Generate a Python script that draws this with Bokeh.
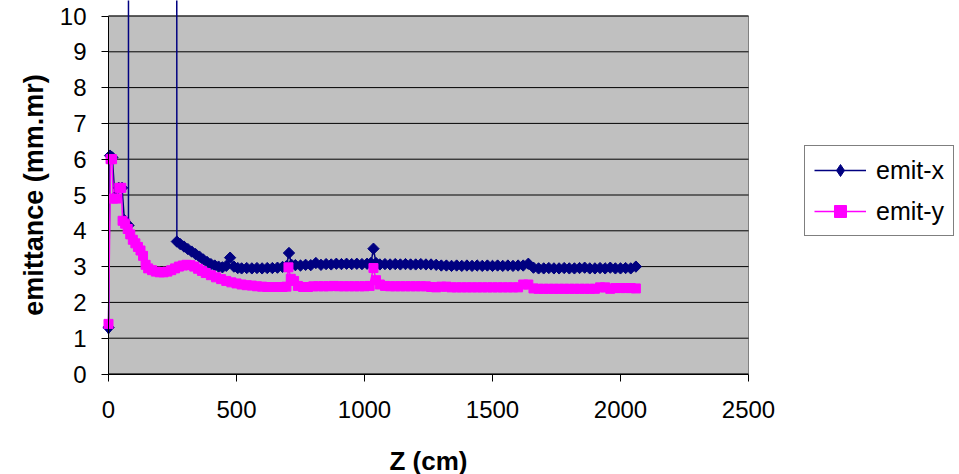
import math
from bokeh.plotting import figure
from bokeh.models import Range1d, FixedTicker, Legend, LegendItem, Label
from bokeh.embed import file_html
from bokeh.resources import INLINE

# ---------------- data ----------------
x_ticks = [0, 500, 1000, 1500, 2000, 2500]
y_ticks = [0, 1, 2, 3, 4, 5, 6, 7, 8, 9, 10]

z_x = [0, 6, 15, 25, 40, 53, 62, 70, 78, 79, 165, 254, 267, 280, 295, 310, 325,
       340, 355, 370, 385, 400, 415, 430, 445, 460, 475, 490, 505, 520, 540, 560, 580,
       600, 620, 640, 660, 680, 695, 705, 715, 730, 750, 770, 790, 810, 830, 850, 870,
       890, 910, 930, 950, 970, 990, 1010, 1025, 1035, 1045, 1060, 1080, 1100, 1120,
       1140, 1160, 1180, 1200, 1220, 1240, 1260, 1280, 1300, 1320, 1340, 1360, 1380,
       1400, 1420, 1440, 1460, 1480, 1500, 1520, 1540, 1560, 1580, 1600, 1620, 1640,
       1660, 1680, 1700, 1720, 1740, 1760, 1780, 1800, 1820, 1840, 1860, 1880, 1900,
       1920, 1940, 1960, 1980, 2000, 2020, 2040, 2060]
emit_x = [1.3, 6.1, 6.05, 4.95, 5.2, 5.2, 4.3, 4.2, 4.15, 300, 300, 300, 3.70, 3.63,
          3.56, 3.49, 3.42, 3.35, 3.28, 3.20, 3.13, 3.07, 3.03, 3.00, 2.98, 3.02, 3.25,
          3.00, 2.96, 2.95, 2.96, 2.95, 2.96, 2.95, 2.96, 2.96, 2.97, 2.99, 3.01, 3.38,
          3.05, 3.04, 3.03, 3.05, 3.04, 3.10, 3.05, 3.07, 3.06, 3.08, 3.07, 3.08, 3.07,
          3.08, 3.07, 3.08, 3.10, 3.50, 3.10, 3.06, 3.07, 3.06, 3.07, 3.06, 3.07, 3.06,
          3.06, 3.07, 3.06, 3.06, 3.05, 3.03, 3.03, 3.02, 3.03, 3.02, 3.03, 3.02, 3.03,
          3.02, 3.03, 3.02, 3.03, 3.02, 3.03, 3.02, 3.03, 3.03, 3.08, 2.97, 2.95, 2.95,
          2.96, 2.95, 2.95, 2.96, 2.95, 2.95, 2.96, 2.97, 2.95, 2.95, 2.96, 2.95, 2.97,
          2.95, 2.95, 2.96, 2.95, 3.00]

z_y = [0, 8, 14, 18, 30, 42, 50, 55, 65, 75, 85, 95, 105, 115, 125, 135, 145, 155, 170,
       185, 200, 215, 230, 245, 260, 275, 290, 305, 320, 335, 350, 365, 380, 400, 420,
       440, 460, 480, 500, 520, 540, 560, 580, 600, 620, 640, 660, 680, 695, 703, 712,
       725, 740, 760, 780, 800, 820, 840, 860, 880, 900, 920, 940, 960, 980, 1000, 1020,
       1035, 1045, 1060, 1080, 1100, 1120, 1140, 1160, 1180, 1200, 1220, 1240, 1260,
       1280, 1300, 1320, 1340, 1360, 1380, 1400, 1420, 1440, 1460, 1480, 1500, 1520,
       1540, 1560, 1580, 1600, 1620, 1640, 1660, 1680, 1700, 1720, 1740, 1760, 1780,
       1800, 1820, 1840, 1860, 1880, 1900, 1920, 1940, 1960, 1980, 2000, 2020, 2040,
       2060]
emit_y = [1.4, 6.0, 6.0, 4.9, 4.9, 5.2, 5.2, 4.28, 4.2, 4.05, 3.9, 3.75, 3.65, 3.55,
          3.45, 3.3, 3.05, 2.95, 2.9, 2.86, 2.84, 2.84, 2.86, 2.9, 2.95, 3.0, 3.03, 3.05,
          3.04, 3.0, 2.94, 2.88, 2.82, 2.76, 2.7, 2.65, 2.6, 2.56, 2.53, 2.5, 2.48, 2.47,
          2.45, 2.44, 2.43, 2.43, 2.43, 2.43, 2.44, 2.98, 2.66, 2.6, 2.46, 2.43, 2.43,
          2.45, 2.45, 2.45, 2.45, 2.46, 2.45, 2.45, 2.45, 2.45, 2.45, 2.45, 2.46, 2.96,
          2.62, 2.5, 2.46, 2.45, 2.45, 2.45, 2.45, 2.45, 2.45, 2.45, 2.45, 2.43, 2.42,
          2.44, 2.44, 2.42, 2.42, 2.42, 2.42, 2.42, 2.42, 2.42, 2.42, 2.42, 2.42, 2.42,
          2.42, 2.42, 2.42, 2.5, 2.5, 2.39, 2.38, 2.38, 2.38, 2.38, 2.38, 2.38, 2.38,
          2.38, 2.38, 2.38, 2.38, 2.38, 2.42, 2.42, 2.38, 2.4, 2.4, 2.4, 2.4, 2.39]

FONT = "Liberation Sans"

# The frame covers the whole page; the gray plot area is 0..2500 x 0..10 inside
# it and both axes are pinned at 0.
W, H = 959, 474
LEFT = 108              # page x of z = 0
PLOT_W = 640            # pixels for 0..2500
PLOT_H = 358            # pixels for 0..10
PLOT_TOP = 15.5         # page y of the value 10
kx = x_ticks[-1] / PLOT_W
ky = y_ticks[-1] / PLOT_H
x_start, x_end = -LEFT * kx, (W - LEFT) * kx
y_end = y_ticks[-1] + PLOT_TOP * ky
y_start = y_end - H * ky

p = figure(width=W, height=H, output_backend="svg", toolbar_location=None,
           x_range=Range1d(x_start, x_end), y_range=Range1d(y_start, y_end),
           min_border_left=0, min_border_right=0, min_border_top=0,
           min_border_bottom=0)
p.background_fill_color = "white"
p.border_fill_color = "white"
p.outline_line_color = None
p.grid.visible = False

# gray plot area (0..2500, 0..10)
p.quad(left=[x_ticks[0]], right=[x_ticks[-1]], bottom=[y_ticks[0]], top=[y_ticks[-1]],
       fill_color="#C0C0C0", line_color="#808080", line_width=1, level="image")
# horizontal grid lines across the plot area
p.segment(x0=[x_ticks[0]] * len(y_ticks), x1=[x_ticks[-1]] * len(y_ticks),
          y0=y_ticks, y1=y_ticks, line_color="black", line_width=1, level="underlay")

for ax in (p.xaxis, p.yaxis):
    ax.axis_line_color = "black"
    ax.major_tick_line_color = "black"
    ax.major_tick_in = 0
    ax.major_tick_out = 7
    ax.minor_tick_line_color = None
    ax.major_label_text_font = FONT
    ax.major_label_text_font_size = "24px"
    ax.major_label_text_color = "black"

p.xaxis.ticker = FixedTicker(ticks=x_ticks)
p.yaxis.ticker = FixedTicker(ticks=y_ticks)
p.xaxis.bounds = (x_ticks[0], x_ticks[-1])
p.yaxis.bounds = (y_ticks[0], y_ticks[-1])
p.xaxis.fixed_location = y_ticks[0]
p.yaxis.fixed_location = x_ticks[0]
p.xaxis.major_label_standoff = 20
p.yaxis.major_label_standoff = 15

# axis titles, centred on the gray plot area
xtitle = Label(x=(x_ticks[0] + x_ticks[-1]) / 2, y=14, y_units="screen",
               text="Z (cm)", text_align="center", text_baseline="middle",
               text_font=FONT, text_font_size="26px", text_font_style="bold",
               text_color="black")
ytitle = Label(x=33, x_units="screen", y=(y_ticks[0] + y_ticks[-1]) / 2,
               text="emittance (mm.mr)", angle=math.pi / 2,
               text_align="center", text_baseline="middle",
               text_font=FONT, text_font_size="27px", text_font_style="bold",
               text_color="black")
p.add_layout(xtitle)
p.add_layout(ytitle)

rx_line = p.line(z_x, emit_x, line_color="#000080", line_width=1.5)
rx_mark = p.scatter(z_x, emit_x, marker="square", angle=math.pi / 4, size=8,
                    fill_color="#000080", line_color="#000080")
# diamond key for the legend (drawn on the first point, under the pink marker)
rx_key = p.scatter(z_x[:1], emit_x[:1], marker="diamond", size=13,
                   fill_color="#000080", line_color="#000080")
ry_line = p.line(z_y, emit_y, line_color="#FF00FF", line_width=1.5)
ry_mark = p.scatter(z_y, emit_y, marker="square", size=9,
                    fill_color="#FF00FF", line_color="#FF00FF")

legend = Legend(items=[LegendItem(label="emit-x", renderers=[rx_line, rx_key]),
                       LegendItem(label="emit-y", renderers=[ry_line, ry_mark])],
                location=(804, H - 236))
legend.border_line_color = "black"
legend.border_line_width = 1
legend.background_fill_color = "white"
legend.background_fill_alpha = 1
legend.label_text_font = FONT
legend.label_text_font_size = "25px"
legend.label_text_color = "black"
legend.glyph_width = 52
legend.glyph_height = 30
legend.label_height = 30
legend.label_standoff = 10
legend.padding = 9
legend.spacing = 11
legend.margin = 0
p.add_layout(legend)

open("out.html", "w").write(file_html(p, INLINE))
